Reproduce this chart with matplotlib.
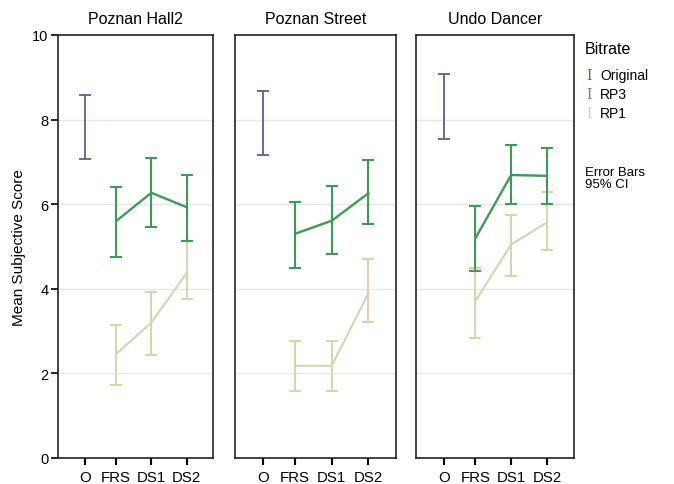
import matplotlib
matplotlib.use("Agg")
import matplotlib.pyplot as plt

plt.rcParams['font.family'] = ['Liberation Sans', 'DejaVu Sans']

panels = ["Poznan Hall2", "Poznan Street", "Undo Dancer"]
categories = ["O", "FRS", "DS1", "DS2"]

# Original (only O)
orig_mean = [7.83, 7.91, 8.30]
orig_low = [7.07, 7.16, 7.53]
orig_high = [8.59, 8.67, 9.07]

# RP3 at FRS, DS1, DS2
rp3_mean = [[5.60, 6.27, 5.93], [5.30, 5.61, 6.26], [5.19, 6.69, 6.67]]
rp3_low = [[4.76, 5.46, 5.14], [4.48, 4.82, 5.53], [4.42, 6.00, 6.00]]
rp3_high = [[6.41, 7.10, 6.69], [6.06, 6.42, 7.05], [5.96, 7.39, 7.32]]

# RP1 at FRS, DS1, DS2
rp1_mean = [[2.46, 3.20, 4.37], [2.18, 2.18, 3.90], [3.70, 5.05, 5.57]]
rp1_low = [[1.73, 2.43, 3.76], [1.59, 1.59, 3.21], [2.84, 4.30, 4.92]]
rp1_high = [[3.14, 3.92, 5.14], [2.76, 2.76, 4.70], [4.48, 5.75, 6.28]]

c_orig = "#56628f"
c_rp3 = "#3f9a55"
c_rp1 = "#d9d3ae"

xpos = [0, 0.87, 1.87, 2.87]

fig = plt.figure(figsize=(6.74, 4.85), dpi=100)
lefts = [58, 234.5, 416]
rights = [213, 396, 574]
W, H = 674, 485
top, bottom = 36, 459

for i, name in enumerate(panels):
    ax = fig.add_axes([lefts[i] / W, 1 - bottom / H, (rights[i] - lefts[i]) / W, (bottom - top) / H])
    ax.set_ylim(0, 10)
    ax.set_xlim(-0.78, 3.62)
    for g in [2, 4, 6, 8]:
        ax.axhline(g, color="#e6e6e6", lw=1.0, zorder=0)
    # RP1
    m = rp1_mean[i]
    lo = [m[k] - rp1_low[i][k] for k in range(3)]
    hi = [rp1_high[i][k] - m[k] for k in range(3)]
    ax.errorbar(xpos[1:], m, yerr=[lo, hi], color=c_rp1, lw=1.5, elinewidth=1.5,
                capsize=4, capthick=1.5, zorder=2)
    # RP3
    m = rp3_mean[i]
    lo = [m[k] - rp3_low[i][k] for k in range(3)]
    hi = [rp3_high[i][k] - m[k] for k in range(3)]
    ax.errorbar(xpos[1:], m, yerr=[lo, hi], color=c_rp3, lw=1.7, elinewidth=1.5,
                capsize=4, capthick=1.5, zorder=3)
    # Original
    ax.errorbar([xpos[0]], [orig_mean[i]],
                yerr=[[orig_mean[i] - orig_low[i]], [orig_high[i] - orig_mean[i]]],
                color=c_orig, fmt="none", elinewidth=1.3, capsize=4, capthick=1.3, zorder=3)
    ax.set_xticks(xpos)
    ax.set_xticklabels(categories, fontsize=10.8)
    ax.tick_params(axis="x", length=5, width=1.5, color="black", pad=4)
    ax.set_title(name, fontsize=11.5, pad=9)
    for s in ax.spines.values():
        s.set_color("#222222")
        s.set_linewidth(1.2)
    if i == 0:
        ax.set_yticks([0, 2, 4, 6, 8, 10])
        ax.set_yticklabels(["0", "2", "4", "6", "8", "10"], fontsize=10.5)
        ax.tick_params(axis="y", length=5, width=1.2, pad=2)
        ax.set_ylabel("Mean Subjective Score", fontsize=11, labelpad=4)
    else:
        ax.set_yticks([])

# Legend
fig.text(585 / W, 1 - 50 / H, "Bitrate", fontsize=11.5, va="center", ha="left")
leg_items = [("Original", c_orig), ("RP3", c_rp3), ("RP1", c_rp1)]
for k, (lab, col) in enumerate(leg_items):
    y = 76 + k * 19
    fig.text(586 / W, 1 - y / H, "I", fontsize=10, color=col, va="center", ha="left",
             family=["DejaVu Serif"])
    fig.text(600 / W, 1 - y / H, lab, fontsize=10, va="center", ha="left")
fig.text(585 / W, 1 - 179 / H, "Error Bars\n95% CI", fontsize=9.5, va="center", ha="left",
         linespacing=1.0)

fig.savefig("out.png", dpi=100)
